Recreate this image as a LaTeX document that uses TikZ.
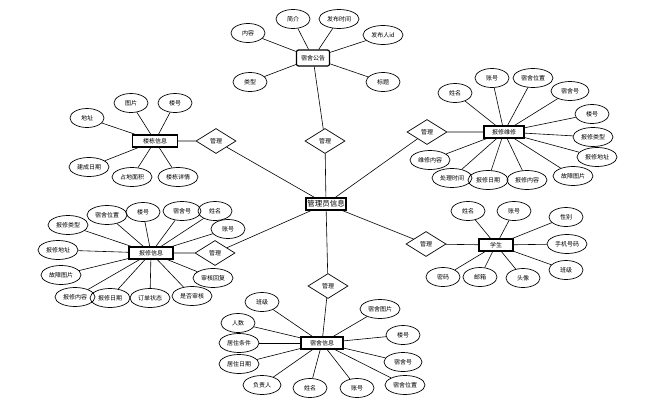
\documentclass[tikz,border=0pt]{standalone}
\usepackage{fontspec}
\setmainfont{Noto Sans CJK SC}
\usetikzlibrary{shapes.geometric}

\begin{document}
\begin{tikzpicture}[x=1pt,y=-1pt,font=\fontsize{6}{6.5}\selectfont,
  ent/.style={draw,line width=1.2pt,inner sep=1.5pt,minimum width=40pt,minimum height=12pt},
  att/.style={ellipse,draw,line width=0.7pt,inner sep=0pt,minimum width=34pt,minimum height=19pt},
  rel/.style={diamond,draw,line width=0.7pt,aspect=1.6,inner sep=1pt,minimum width=40pt,minimum height=25pt}]
\useasboundingbox (0,0) rectangle (664,407);
\node[ent,font=\fontsize{7.5}{8}\selectfont,inner sep=1pt] (adm) at (326,204) {管理员信息};
% 宿舍公告
\node[ent,rounded corners=2pt,minimum width=33pt,minimum height=16pt] (gg) at (313,58) {宿舍公告};
\node[att] (gg1) at (248,33) {内容};
\node[att] (gg2) at (293,19) {简介};
\node[att,minimum width=40pt] (gg3) at (339,19) {发布时间};
\node[att,minimum width=40pt] (gg4) at (383,35) {发布人id};
\node[att] (gg5) at (383,82) {标题};
\node[att] (gg6) at (250,82) {类型};
\node[rel] (r1) at (325,141) {管理};
\foreach \i in {1,...,6} \draw[line width=0.6pt] (gg) -- (gg\i);
% 报修维修
\node[ent] (wx) at (504,132) {报修维修};
\node[att] (wx1) at (455,93) {姓名};
\node[att] (wx2) at (492,78) {账号};
\node[att,minimum width=40pt] (wx3) at (533,78) {宿舍位置};
\node[att,minimum width=38pt] (wx4) at (570,91) {宿舍号};
\node[att] (wx5) at (592,114) {楼号};
\node[att,minimum width=40pt] (wx6) at (593,137) {报修类型};
\node[att,minimum width=40pt] (wx7) at (597,157) {报修地址};
\node[att,minimum width=40pt] (wx8) at (573,176) {故障图片};
\node[att,minimum width=40pt] (wx9) at (527,180) {报修内容};
\node[att,minimum width=40pt] (wx10) at (488,180) {报修日期};
\node[att,minimum width=40pt] (wx11) at (452,178) {处理时间};
\node[att,minimum width=40pt] (wx12) at (430,160) {维修内容};
\node[rel] (r2) at (427,132) {管理};
\foreach \i in {1,...,12} \draw[line width=0.6pt] (wx) -- (wx\i);
% 学生
\node[ent,minimum width=34pt] (xs) at (496,245) {学生};
\node[att] (xs1) at (468,211) {姓名};
\node[att] (xs2) at (514,211) {账号};
\node[att] (xs3) at (566,217) {性别};
\node[att,minimum width=40pt] (xs4) at (567,244) {手机号码};
\node[att] (xs5) at (566,270) {班级};
\node[att] (xs6) at (523,278) {头像};
\node[att] (xs7) at (480,277) {邮箱};
\node[att] (xs8) at (443,277) {密码};
\node[rel] (r3) at (426,244) {管理};
\foreach \i in {1,...,8} \draw[line width=0.6pt] (xs) -- (xs\i);
% 楼栋信息
\node[ent,minimum width=45pt] (ld) at (155,141) {楼栋信息};
\node[att] (ld1) at (87,118) {地址};
\node[att] (ld2) at (131,103) {图片};
\node[att] (ld3) at (175,103) {楼号};
\node[att,minimum width=40pt] (ld4) at (89,167) {建成日期};
\node[att,minimum width=40pt] (ld5) at (132,177) {占地面积};
\node[att,minimum width=40pt] (ld6) at (178,177) {楼栋详情};
\node[rel] (r4) at (216,141) {管理};
\foreach \i in {1,...,6} \draw[line width=0.6pt] (ld) -- (ld\i);
% 报修信息
\node[ent,minimum width=44pt] (bx) at (151,253) {报修信息};
\node[att,minimum width=40pt] (bx1) at (68,225) {报修类型};
\node[att,minimum width=40pt] (bx2) at (107,215) {宿舍位置};
\node[att] (bx3) at (143,212) {楼号};
\node[att,minimum width=38pt] (bx4) at (182,211) {宿舍号};
\node[att] (bx5) at (215,211) {姓名};
\node[att] (bx6) at (228,229) {账号};
\node[att,minimum width=40pt] (bx7) at (58,250) {报修地址};
\node[att,minimum width=40pt] (bx8) at (61,275) {故障图片};
\node[att,minimum width=40pt] (bx9) at (75,297) {报修内容};
\node[att,minimum width=40pt] (bx10) at (110,298) {报修日期};
\node[att,minimum width=40pt] (bx11) at (150,298) {订单状态};
\node[att,minimum width=40pt] (bx12) at (192,296) {是否审核};
\node[att,minimum width=40pt] (bx13) at (213,278) {审核回复};
\node[rel] (r5) at (215,253) {管理};
\foreach \i in {1,...,13} \draw[line width=0.6pt] (bx) -- (bx\i);
% 宿舍信息
\node[ent,minimum width=42pt] (ss) at (322,343) {宿舍信息};
\node[att] (ss1) at (262,302) {班级};
\node[att] (ss2) at (238,323) {人数};
\node[att,minimum width=40pt] (ss3) at (239,343) {居住条件};
\node[att,minimum width=40pt] (ss4) at (239,364) {居住日期};
\node[att,minimum width=38pt] (ss5) at (262,385) {负责人};
\node[att] (ss6) at (310,388) {姓名};
\node[att] (ss7) at (357,388) {账号};
\node[att,minimum width=40pt] (ss8) at (405,385) {宿舍位置};
\node[att,minimum width=38pt] (ss9) at (403,362) {宿舍号};
\node[att] (ss10) at (403,335) {楼号};
\node[att,minimum width=40pt] (ss11) at (380,309) {宿舍图片};
\node[rel] (r6) at (328,286) {管理};
\foreach \i in {1,...,11} \draw[line width=0.6pt] (ss) -- (ss\i);
% relations
\draw[line width=0.6pt] (gg) -- (r1) -- (adm);
\draw[line width=0.6pt] (wx) -- (r2) -- (adm);
\draw[line width=0.6pt] (xs) -- (r3) -- (adm);
\draw[line width=0.6pt] (ld) -- (r4) -- (adm);
\draw[line width=0.6pt] (bx) -- (r5) -- (adm);
\draw[line width=0.6pt] (ss) -- (r6) -- (adm);
\end{tikzpicture}
\end{document}
